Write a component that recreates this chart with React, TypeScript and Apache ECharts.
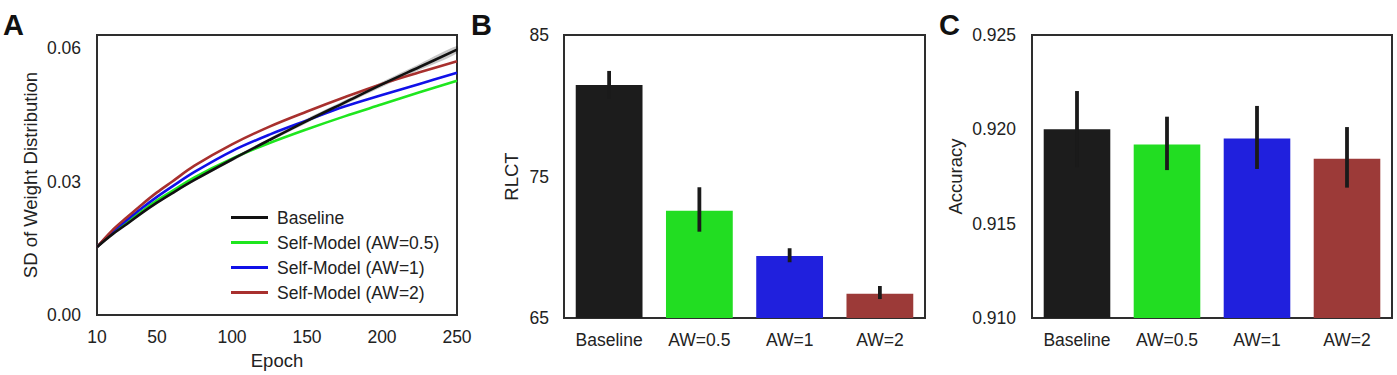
import React, { useEffect, useRef } from "react";
import * as echarts from "echarts";

// ---------- Data ----------
const epochs = [10, 20, 30, 40, 50, 60, 75, 100, 125, 150, 175, 200, 225, 250];
const baseline = [0.0153, 0.0181, 0.0205, 0.023, 0.0253, 0.0274, 0.0304, 0.035, 0.0394, 0.0437, 0.0478, 0.0519, 0.0558, 0.0597];
const baselineLo = [0.0152, 0.0179, 0.0203, 0.0227, 0.025, 0.0271, 0.0301, 0.0346, 0.039, 0.0432, 0.0473, 0.0513, 0.0551, 0.0589];
const baselineHi = [0.0154, 0.0183, 0.0207, 0.0233, 0.0256, 0.0277, 0.0307, 0.0354, 0.0398, 0.0442, 0.0483, 0.0525, 0.0565, 0.0605];
const aw05 = [0.0153, 0.0184, 0.0209, 0.0234, 0.0258, 0.0279, 0.031, 0.0352, 0.0387, 0.0418, 0.0447, 0.0474, 0.0501, 0.0527];
const aw1 = [0.0153, 0.0187, 0.0214, 0.0241, 0.0266, 0.0289, 0.0322, 0.0369, 0.0406, 0.0438, 0.0469, 0.0495, 0.052, 0.0545];
const aw2 = [0.0153, 0.019, 0.022, 0.0249, 0.0276, 0.03, 0.0336, 0.0384, 0.0424, 0.0458, 0.049, 0.052, 0.0546, 0.0571];
const lineNames = ["Baseline", "Self-Model (AW=0.5)", "Self-Model (AW=1)", "Self-Model (AW=2)"];
const epochTicks = [10, 50, 100, 150, 200, 250];
const sdTicks = [0, 0.03, 0.06];

const barCategories = ["Baseline", "AW=0.5", "AW=1", "AW=2"];
const rlct = [81.47, 72.58, 69.38, 66.72];
const rlctLo = [80.5, 71.1, 68.94, 66.34];
const rlctHi = [82.46, 74.24, 69.93, 67.26];
const rlctTicks = [65, 75, 85];

const accuracy = [0.92, 0.91919, 0.91952, 0.91844];
const accLo = [0.918, 0.91784, 0.9179, 0.91691];
const accHi = [0.92203, 0.92067, 0.92124, 0.92012];
const accTicks = [0.91, 0.915, 0.92, 0.925];

// ---------- Styles ----------
const lineColors = ["#111111", "#1ee61e", "#1010e8", "#a8302e"];
const barColors = ["#1c1c1c", "#22dd22", "#2020dd", "#9c3a38"];
const FONT = "'Liberation Sans', Arial, sans-serif";
const TXT = "#222222";

export default function App() {
  const ref = useRef<HTMLDivElement>(null);
  useEffect(() => {
    document.body.style.margin = "0";
    const chart = echarts.init(ref.current!, null, { renderer: "svg" });

    const grids = [
      { left: 97, top: 35, width: 360, height: 283 },
      { left: 564, top: 35, width: 361, height: 283 },
      { left: 1032, top: 35, width: 360, height: 283 },
    ].map((g) => ({ ...g, show: true, borderColor: "#2e2e2e", borderWidth: 2, backgroundColor: "transparent", containLabel: false }));

    const tickLabel = { color: TXT, fontSize: 17.5, fontFamily: FONT };
    const nameStyle = { color: TXT, fontSize: 18.5, fontFamily: FONT };

    const errorBar = (xi: number, yi: number, lo: number[], hi: number[]) => ({
      type: "custom",
      xAxisIndex: xi,
      yAxisIndex: yi,
      z: 10,
      data: barCategories.map((_, i) => [i, lo[i], hi[i]]),
      renderItem: (params: any, api: any) => {
        const x = api.value(0);
        const p1 = api.coord([x, api.value(1)]);
        const p2 = api.coord([x, api.value(2)]);
        return {
          type: "line",
          shape: { x1: p1[0], y1: p1[1], x2: p2[0], y2: p2[1] },
          style: { stroke: "#1a1a1a", lineWidth: 3.8 },
        };
      },
    });

    const option: any = {
      animation: false,
      textStyle: { fontFamily: FONT },
      grid: grids,
      legend: {
        data: lineNames,
        orient: "vertical",
        left: 226,
        top: 203,
        icon: "rect",
        itemWidth: 37,
        itemHeight: 3,
        itemGap: 6,
        textStyle: { color: TXT, fontSize: 17.5, fontFamily: FONT, lineHeight: 19, padding: [0, 0, 0, 4] },
      },
      graphic: [
        { type: "text", left: 3, top: 10, style: { text: "A", font: `bold 29px ${FONT}`, fill: "#111" } },
        { type: "text", left: 471, top: 10, style: { text: "B", font: `bold 29px ${FONT}`, fill: "#111" } },
        { type: "text", left: 939, top: 10, style: { text: "C", font: `bold 29px ${FONT}`, fill: "#111" } },
      ],
      xAxis: [
        {
          gridIndex: 0,
          type: "value",
          min: 10,
          max: 250,
          name: "Epoch",
          nameLocation: "middle",
          nameGap: 35,
          nameTextStyle: nameStyle,
          axisLine: { show: false },
          axisTick: { show: false },
          splitLine: { show: false },
          axisLabel: { ...tickLabel, margin: 13, customValues: epochTicks, showMinLabel: true, showMaxLabel: true },
        },
        {
          gridIndex: 1,
          type: "category",
          data: barCategories,
          axisLine: { show: false },
          axisTick: { show: false },
          axisLabel: { ...tickLabel, margin: 13 },
        },
        {
          gridIndex: 2,
          type: "category",
          data: barCategories,
          axisLine: { show: false },
          axisTick: { show: false },
          axisLabel: { ...tickLabel, margin: 13 },
        },
      ],
      yAxis: [
        {
          gridIndex: 0,
          type: "value",
          min: 0,
          max: 0.063,
          name: "SD of Weight Distribution",
          nameLocation: "middle",
          nameGap: 57,
          nameTextStyle: nameStyle,
          axisLine: { show: false },
          axisTick: { show: false },
          splitLine: { show: false },
          axisLabel: { ...tickLabel, margin: 16, customValues: sdTicks, formatter: (v: number) => v.toFixed(2) },
        },
        {
          gridIndex: 1,
          type: "value",
          min: 65,
          max: 85,
          name: "RLCT",
          nameLocation: "middle",
          nameGap: 43,
          nameTextStyle: nameStyle,
          axisLine: { show: false },
          axisTick: { show: false },
          splitLine: { show: false },
          axisLabel: { ...tickLabel, margin: 15, customValues: rlctTicks },
        },
        {
          gridIndex: 2,
          type: "value",
          min: 0.91,
          max: 0.925,
          name: "Accuracy",
          nameLocation: "middle",
          nameGap: 67,
          nameTextStyle: nameStyle,
          axisLine: { show: false },
          axisTick: { show: false },
          splitLine: { show: false },
          axisLabel: { ...tickLabel, margin: 16, customValues: accTicks, formatter: (v: number) => v.toFixed(3) },
        },
      ],
      series: [
        {
          type: "custom",
          xAxisIndex: 0,
          yAxisIndex: 0,
          z: 1,
          data: [0],
          renderItem: (params: any, api: any) => {
            const upper = epochs.map((e, i) => api.coord([e, baselineHi[i]]));
            const lower = epochs.map((e, i) => api.coord([e, baselineLo[i]])).reverse();
            return {
              type: "polygon",
              shape: { points: upper.concat(lower), smooth: 0.3 },
              style: { fill: "rgba(0,0,0,0.22)" },
            };
          },
          silent: true,
        },
        ...[baseline, aw05, aw1, aw2].map((vals, k) => ({
          type: "line",
          name: lineNames[k],
          xAxisIndex: 0,
          yAxisIndex: 0,
          z: 2 + (k === 0 ? 3 : 0),
          data: epochs.map((e, i) => [e, vals[i]]),
          smooth: 0.35,
          symbol: "none",
          color: lineColors[k],
          lineStyle: { width: 2.6, color: lineColors[k] },
        })),
        {
          type: "bar",
          xAxisIndex: 1,
          yAxisIndex: 1,
          barWidth: "74%",
          data: rlct.map((v, i) => ({ value: v, itemStyle: { color: barColors[i] } })),
        },
        errorBar(1, 1, rlctLo, rlctHi),
        {
          type: "bar",
          xAxisIndex: 2,
          yAxisIndex: 2,
          barWidth: "74%",
          data: accuracy.map((v, i) => ({ value: v, itemStyle: { color: barColors[i] } })),
        },
        errorBar(2, 2, accLo, accHi),
      ],
    };
    chart.setOption(option);
    return () => chart.dispose();
  }, []);
  return <div ref={ref} style={{ position: "absolute", left: 0, top: 0, width: 1397, height: 375 }} />;
}
